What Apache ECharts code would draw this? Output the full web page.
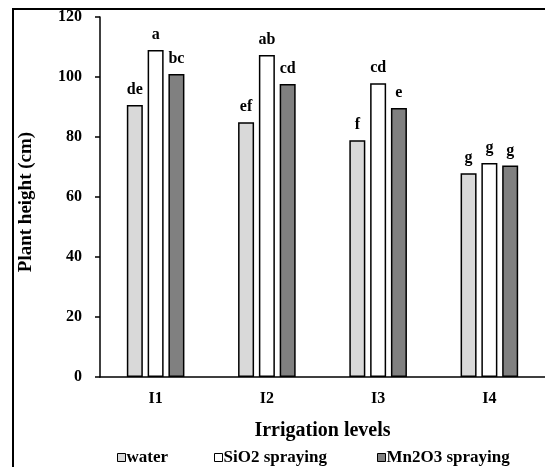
<!DOCTYPE html>
<html><head><meta charset="utf-8">
<script src="https://cdn.jsdelivr.net/npm/echarts@6/dist/echarts.min.js"></script>
<style>html,body{margin:0;padding:0;background:#fff}#c{width:545px;height:467px}</style>
</head><body><div id="c"></div>
<script>
const categories = ['I1', 'I2', 'I3', 'I4'];
const water = [90.7, 84.9, 78.9, 67.9];
const sio2 = [109.0, 107.3, 97.9, 71.3];
const mn2o3 = [101.0, 97.7, 89.7, 70.5];
const waterLetters = ['de', 'ef', 'f', 'g'];
const sio2Letters = ['a', 'ab', 'cd', 'g'];
const mn2o3Letters = ['bc', 'cd', 'e', 'g'];
const seriesNames = ['water', 'SiO2 spraying', 'Mn2O3 spraying'];
const yTicks = [0, 20, 40, 60, 80, 100, 120];

const font = 'Liberation Serif';
function series(name, data, letters, color) {
  return {
    name, type: 'bar', data,
    barWidth: 16, barGap: '30%',
    itemStyle: { color, borderColor: '#000', borderWidth: 1.5 },
    label: { show: true, position: 'top', distance: 7, formatter: p => letters[p.dataIndex],
      fontFamily: font, fontWeight: 'bold', fontSize: 16, color: '#000' }
  };
}
const legendLefts = [117, 214, 377];
const legends = seriesNames.map((n, i) => ({
  top: 449, left: legendLefts[i], itemWidth: 8, itemHeight: 8, icon: 'rect', padding: 0,
  itemStyle: { borderColor: '#000', borderWidth: 1 },
  textStyle: { fontFamily: font, fontWeight: 'bold', fontSize: 17, color: '#000', padding: [0, 0, 0, -4] },
  data: [n]
}));
const chart = echarts.init(document.getElementById('c'));
chart.setOption({
  animation: false,
  grid: { left: 100, right: -6, top: 17, bottom: 90 },
  graphic: [{ type: 'rect', shape: { x: 13, y: 9, width: 700, height: 700 },
    style: { fill: 'none', stroke: '#000', lineWidth: 2 }, silent: true }],
  legend: legends,
  xAxis: {
    type: 'category', data: categories,
    name: 'Irrigation levels', nameLocation: 'middle', nameGap: 44,
    nameTextStyle: { fontFamily: font, fontWeight: 'bold', fontSize: 20, color: '#000' },
    axisLine: { lineStyle: { color: '#000', width: 1.5 } },
    axisTick: { show: false },
    axisLabel: { fontFamily: font, fontWeight: 'bold', fontSize: 16, color: '#000', margin: 14 }
  },
  yAxis: {
    type: 'value', min: yTicks[0], max: yTicks[yTicks.length - 1], interval: 20,
    name: 'Plant height (cm)', nameLocation: 'middle', nameGap: 64,
    nameTextStyle: { fontFamily: font, fontWeight: 'bold', fontSize: 19, color: '#000', padding: [0, 10, 0, 0] },
    axisLine: { show: true, lineStyle: { color: '#000', width: 1.5 } },
    axisTick: { show: true, length: 5, lineStyle: { color: '#000', width: 1.5 } },
    splitLine: { show: false },
    axisLabel: { fontFamily: font, fontWeight: 'bold', fontSize: 16, color: '#000', margin: 18 }
  },
  series: [
    series(seriesNames[0], water, waterLetters, '#d9d9d9'),
    series(seriesNames[1], sio2, sio2Letters, '#ffffff'),
    series(seriesNames[2], mn2o3, mn2o3Letters, '#808080')
  ]
});
</script></body></html>
